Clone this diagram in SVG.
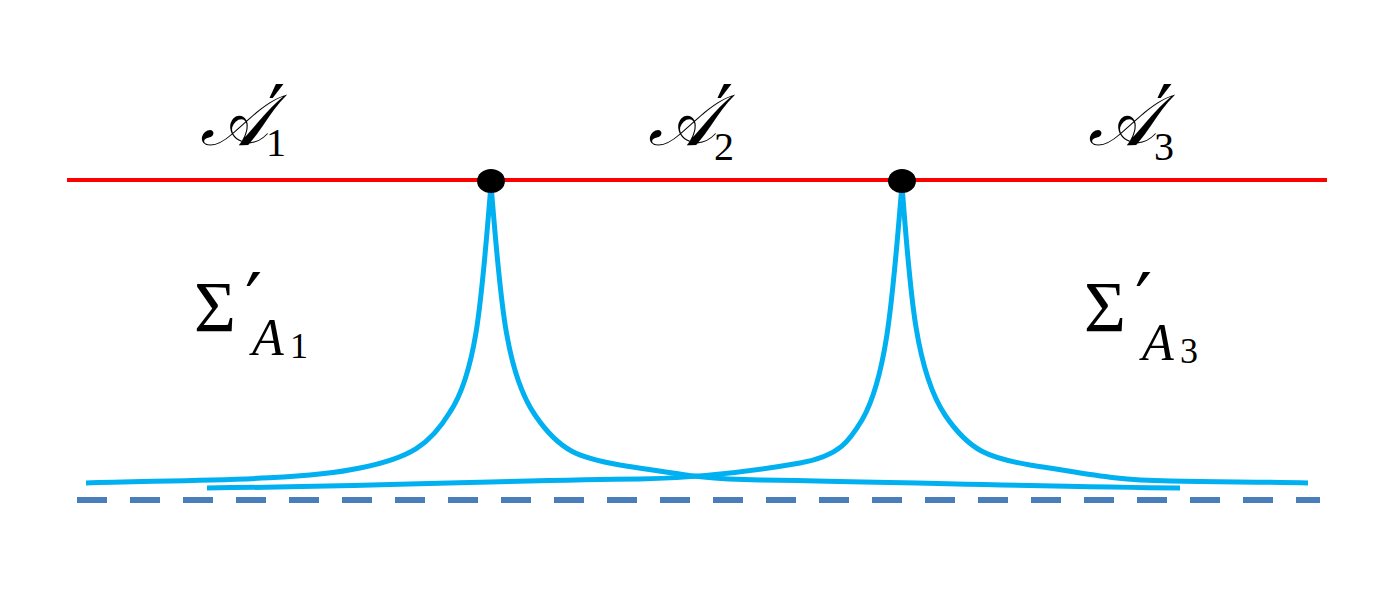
<svg xmlns="http://www.w3.org/2000/svg" width="1400" height="600" viewBox="0 0 1400 600">
<style>
.lbl{font-family:"Liberation Serif","DejaVu Serif",serif;fill:#000}
.cal{font-size:72px;font-style:italic}
.sub{font-size:40px;font-style:normal}
.sig{font-size:72px}
.subA{font-size:52px;font-style:italic}
.subN{font-size:36px;font-style:normal}
.prime{font-family:"DejaVu Serif",serif;font-size:76px;font-style:normal}
.curve{fill:none;stroke:#00B0F0;stroke-width:5;stroke-linecap:butt}
</style>
<rect width="1400" height="600" fill="#fff"/>
<g id="baseline">
<line x1="77" y1="500" x2="1320" y2="500" stroke="#4A7EBB" stroke-width="6" stroke-dasharray="30 23"/>
</g>
<g id="boundary">
<line x1="67" y1="180" x2="1327" y2="180" stroke="#FF0000" stroke-width="4"/>
</g>
<g id="connectors">
<path class="curve" d="M86,483 C180,480 300,481 360,468 C410,458 430,445 450,412 C478,370 482,290 491,185"/>
<path class="curve" d="M491,185 C500,290 504,370 535,415 C560,452 580,458 620,465 C680,474 700,479 760,480 C900,482 1050,487 1180,488"/>
<path class="curve" d="M207,488 C400,486 520,480 640,479 C700,478 760,470 800,463 C840,456 850,440 862,420 C888,375 893,290 902,185"/>
<path class="curve" d="M902,185 C910,290 915,370 945,415 C970,452 990,458 1030,465 C1090,474 1110,480 1170,481 C1230,482 1270,482 1308,483"/>
</g>
<g id="node-p1"><ellipse cx="491" cy="181" rx="14" ry="12" fill="#000"/></g>
<g id="node-p2"><ellipse cx="902" cy="181" rx="14" ry="12" fill="#000"/></g>
<g id="label-A1" class="lbl"><text x="200" y="145" class="cal">𝒜<tspan class="prime" x="268" y="140">′</tspan><tspan class="sub" x="266" y="156">1</tspan></text></g>
<g id="label-A2" class="lbl"><text x="648" y="145" class="cal">𝒜<tspan class="prime" x="716" y="140">′</tspan><tspan class="sub" x="714" y="160">2</tspan></text></g>
<g id="label-A3" class="lbl"><text x="1088" y="145" class="cal">𝒜<tspan class="prime" x="1156" y="140">′</tspan><tspan class="sub" x="1154" y="160">3</tspan></text></g>
<g id="label-S1" class="lbl"><text x="194" y="331" class="sig">Σ<tspan class="prime" x="245" y="328">′</tspan><tspan class="subA" x="252" y="355">A</tspan><tspan class="subN" x="290" y="358">1</tspan></text></g>
<g id="label-S3" class="lbl"><text x="1084" y="331" class="sig">Σ<tspan class="prime" x="1135" y="328">′</tspan><tspan class="subA" x="1142" y="360">A</tspan><tspan class="subN" x="1180" y="363">3</tspan></text></g>
</svg>
